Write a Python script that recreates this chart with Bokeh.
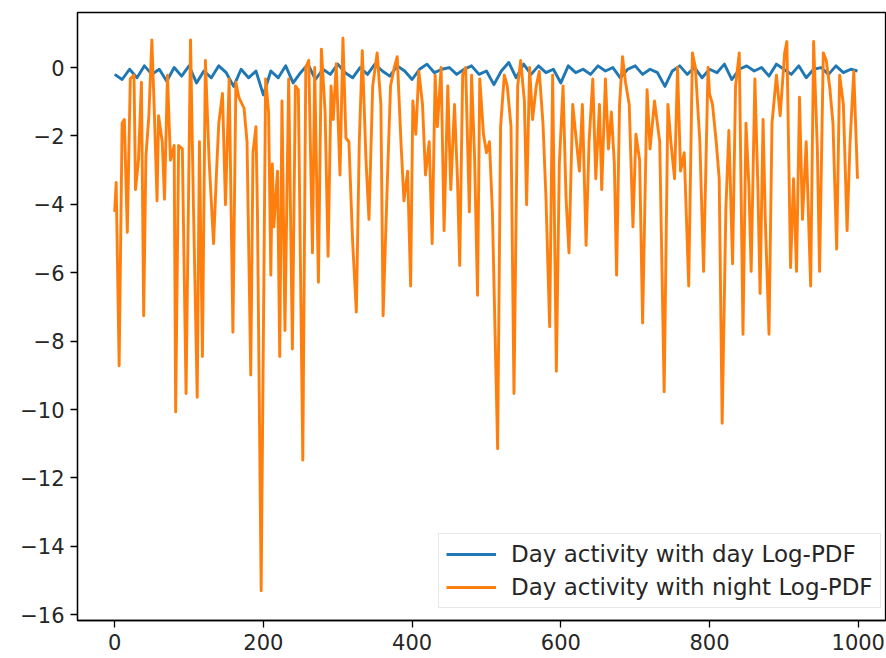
from bokeh.plotting import figure
from bokeh.models import FixedTicker, CustomJSTickFormatter, Range1d, Legend, LegendItem
from bokeh.embed import file_html
from bokeh.resources import INLINE

# Day activity scored with the day Log-PDF
day_x = list(range(0, 1000, 10)) + [999]
day_y = [
    -0.2, -0.35, -0.05, -0.3, 0.05, -0.2, -0.05, -0.4, 0.0, -0.25,
    0.05, -0.45, -0.1, -0.3, 0.05, -0.15, -0.55, -0.05, -0.3, -0.1,
    -0.8, -0.1, -0.3, 0.05, -0.45, -0.15, 0.1, -0.35, -0.05, -0.2,
    0.1, -0.15, -0.3, 0.0, -0.2, 0.1, -0.1, -0.25, 0.05, -0.1,
    -0.35, -0.05, 0.1, -0.15, -0.05, 0.0, -0.2, -0.05, 0.05, -0.2,
    -0.1, -0.5, -0.1, 0.15, -0.3, 0.1, -0.2, 0.05, -0.15, -0.05,
    -0.45, 0.05, -0.15, -0.05, -0.2, 0.05, -0.1, 0.0, -0.3, -0.05,
    0.05, -0.2, -0.05, -0.15, -0.55, -0.1, 0.05, -0.2, 0.0, -0.3,
    -0.05, -0.15, 0.1, -0.35, -0.05, 0.05, -0.1, 0.0, -0.25, 0.1,
    -0.05, -0.2, 0.05, -0.3, -0.05, 0.0, -0.2, 0.05, -0.15, -0.05,
    -0.1,
]

# Day activity scored with the night Log-PDF
night_x = [
    0, 2, 6, 10, 13, 17, 21, 26, 28, 32, 36, 39, 42, 46, 50, 53, 57, 59, 64, 67,
    71, 75, 80, 82, 86, 91, 96, 102, 106, 111, 114, 118, 122, 127, 133, 137, 140, 145, 149, 154,
    159, 163, 167, 174, 178, 183, 186, 190, 192, 197,
    203, 207, 210, 212, 214, 219, 222, 225, 229, 234, 239, 243, 247, 253, 257, 261, 266, 269, 274, 278,
    283, 287, 291, 294, 298, 303, 307, 311, 315, 320, 325, 329, 333, 338, 342, 347, 353, 358, 361, 367,
    371, 376, 380, 385, 389, 394, 398,
    401, 405, 409, 414, 418, 423, 427, 431, 434, 439, 443, 448, 452, 457, 461, 464, 468, 472, 477, 480,
    484, 488, 491, 496, 500, 504, 508, 515, 519, 524, 528, 533, 537, 542, 546, 551, 554, 558, 562, 567,
    571, 576, 580, 585, 589, 594, 598,
    603, 607, 611, 616, 620, 625, 629, 634, 638, 643, 647, 652, 655, 660, 664, 668, 672, 675, 679, 683,
    687, 692, 697, 701, 706, 710, 716, 720, 726, 733, 739, 744, 748, 753, 757, 761, 766, 772, 777, 781,
    787, 792, 798,
    800, 804, 809, 813, 817, 822, 826, 831, 835, 840, 845, 849, 853, 856, 861, 865, 868, 872, 875, 880,
    884, 890, 895, 901, 904, 909, 913, 917, 921, 925, 930, 936, 940, 945, 948, 953, 957, 962, 966, 971,
    975, 980, 985, 989, 994, 999,
]
night_y = [
    -4.22, -3.36, -8.72, -1.63, -1.52, -4.82, -0.33, -0.22, -3.57, -2.71, -0.43, -7.26, -2.60, -1.41, 0.81, -1.08, -3.90, -1.41, -2.17, -3.85,
    -0.22, -2.71, -2.28, -10.07, -2.28, -2.38, -9.53, 0.81, -4.12, -9.64, -2.17, -8.45, 0.21, -2.71, -5.15, -3.03, -1.63, -0.76, -4.01, -0.33,
    -7.74, -0.43, -0.87, -1.19, -2.17, -8.99, -2.49, -1.73, -4.22, -15.3,
    -0.33, -1.30, -6.07, -2.82, -4.66, -3.03, -8.45, -0.98, -7.69, -0.33, -8.23, -0.54, -0.65, -11.48, 0.0, 0.21, -5.42, 0.0, -6.28, 0.54,
    -1.30, -5.52, -0.54, -1.52, 0.11, -3.14, 0.86, -2.06, -2.17, -5.09, -7.15, -2.17, 0.49, -2.71, -4.44, -0.54, 0.43, -1.08, -7.26, -3.14,
    -0.54, 0.0, 0.32, -2.17, -3.90, -3.03, -6.39,
    -0.98, -1.95, -0.11, -1.08, -3.14, -2.17, -5.15, -0.22, -1.73, 0.0, -4.77, -0.54, -3.57, -1.08, -3.25, -5.79, -0.22, 0.0, -4.22, -0.22,
    -2.60, -6.66, -0.33, -1.95, -2.49, -2.17, -4.22, -11.15, -1.73, -0.22, -0.54, -1.73, -9.53, -0.54, 0.21, -0.98, -4.01, 0.0, -1.52, -0.54,
    -0.11, -1.63, -3.79, -7.58, -0.22, -8.88, -2.82,
    -0.54, -3.79, -5.42, -1.08, -1.95, -3.03, -1.08, -5.20, -2.17, -0.33, -3.25, -1.08, -3.57, -0.33, -2.38, -1.30, -2.82, -6.07, -1.08, 0.32,
    -0.43, -1.08, -4.66, -1.95, -2.71, -7.47, -0.65, -2.38, -0.98, -2.17, -9.48, -1.08, -2.17, -3.25, 0.0, -3.03, -2.49, -6.39, 0.43, 0.0,
    -2.17, -5.96, 0.0,
    -0.76, -1.08, -2.17, -3.25, -10.4, -4.12, -1.84, -5.74, -0.54, 0.43, -7.80, -1.63, -3.47, -5.96, -0.33, -3.47, -6.61, -1.52, -4.44, -7.80,
    -1.63, -0.22, -1.41, 0.43, 0.76, -5.85, -3.25, -5.96, -0.87, -4.44, -2.17, -6.39, 0.76, -2.38, -5.96, 0.43, 0.21, -0.65, -1.63, -5.31,
    -0.22, -1.08, -4.77, -2.17, -0.11, -3.25,
]

x_ticks = [0, 200, 400, 600, 800, 1000]
y_ticks = [-16, -14, -12, -10, -8, -6, -4, -2, 0]
labels = ["Day activity with day Log-PDF", "Day activity with night Log-PDF"]

FONT = "DejaVu Sans"

p = figure(
    width=886, height=658,
    output_backend="svg", toolbar_location=None,
    x_range=Range1d(-50, 1038), y_range=Range1d(-16.17, 1.61),
    min_border_left=77, min_border_right=0, min_border_top=12, min_border_bottom=38,
)
p.background_fill_color = "white"
p.border_fill_color = "white"
p.outline_line_color = "black"
p.outline_line_width = 1.3
p.xgrid.visible = False
p.ygrid.visible = False

fmt = CustomJSTickFormatter(code="return tick < 0 ? '\u2212' + Math.abs(tick) : String(tick);")
for ax, ticks in ((p.xaxis[0], x_ticks), (p.yaxis[0], y_ticks)):
    ax.ticker = FixedTicker(ticks=ticks)
    ax.formatter = fmt
    ax.major_tick_in = 0
    ax.major_tick_out = 7
    ax.minor_tick_line_color = None
    ax.axis_line_width = 1.3
    ax.major_tick_line_width = 1.3
    ax.major_label_text_font = FONT
    ax.major_label_text_font_size = "21px"
    ax.major_label_text_color = "#262626"
    ax.major_label_standoff = 6

r_day = p.line(day_x, day_y, line_color="#1f77b4", line_width=2.9, line_join="round")
r_night = p.line(night_x, night_y, line_color="#ff7f0e", line_width=2.9, line_join="round")

legend = Legend(
    items=[LegendItem(label=labels[0], renderers=[r_day]),
           LegendItem(label=labels[1], renderers=[r_night])],
    location=(361, 12),
)
legend.label_text_font = FONT
legend.label_text_font_size = "23px"
legend.label_text_color = "#262626"
legend.glyph_width = 50
legend.glyph_height = 22
legend.label_height = 22
legend.label_standoff = 15
legend.spacing = 7
legend.padding = 7
legend.margin = 0
legend.border_line_color = "#d0d0d0"
legend.border_line_width = 1.3
legend.background_fill_alpha = 0.8
p.add_layout(legend)

open("out.html", "w").write(file_html(p, INLINE))
